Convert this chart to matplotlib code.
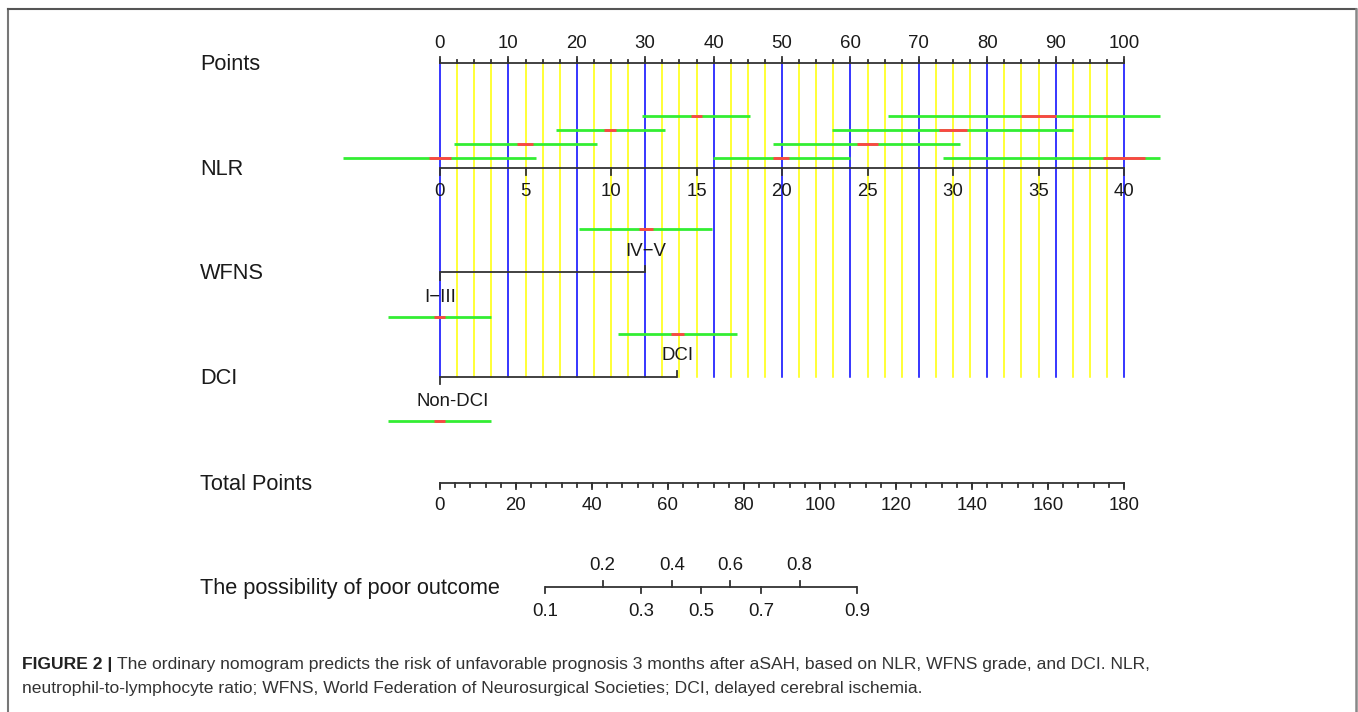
import numpy as np
import matplotlib
matplotlib.use("Agg")
import matplotlib.pyplot as plt

# ---------------- data ----------------
points_major = np.arange(0, 101, 10)
points_minor = np.arange(0, 100.01, 2.5)

nlr_ticks = np.arange(0, 41, 5)
nlr_points_per_unit = 2.5           # 40 NLR units -> 100 points

# confidence intervals drawn above the NLR axis (NLR units)
nlr_ci_values = [0, 5, 10, 15, 20, 25, 30, 35, 40]
nlr_ci_outer_lo = [-5.65, 0.8, 6.78, 11.8, 15.96, 19.5, 22.9, 26.2, 29.4]
nlr_ci_outer_hi = [5.6, 9.16, 13.16, 18.1, 24.0, 30.4, 37.0, 42.1, 42.1]
nlr_ci_inner_lo = [-0.66, 4.5, 9.6, 14.66, 19.5, 24.37, 29.2, 34.0, 38.75]
nlr_ci_inner_hi = [0.63, 5.44, 10.3, 15.3, 20.4, 25.6, 30.8, 36.0, 41.2]

wfns_levels = ["I\u2212III", "IV\u2212V"]
wfns_points = [0, 30.0]
wfns_ci_outer = [(-7.65, 7.5), (20.3, 39.8)]
wfns_ci_inner = [(-0.88, 0.78), (29.1, 31.2)]

dci_levels = ["Non-DCI", "DCI"]
dci_points = [0, 34.7]
dci_ci_outer = [(-7.65, 7.5), (26.0, 43.4)]
dci_ci_inner = [(-0.88, 0.78), (33.8, 35.7)]

total_major = np.arange(0, 181, 20)
total_minor = np.arange(0, 181, 4)
total_max = 180

prob_upper = [0.2, 0.4, 0.6, 0.8]
prob_lower = [0.1, 0.3, 0.5, 0.7, 0.9]
lp_intercept = -3.674               # linear predictor = b0 + b1 * total points
lp_slope = 0.05348

row_labels = ["Points", "NLR", "WFNS", "DCI", "Total Points",
              "The possibility of poor outcome"]

# ---------------- layout ----------------
W, H = 1358, 712
PX0 = 440.0          # pixel x of 0 points
PPP = 6.84           # pixels per point
Y = dict(points=63, nlr=168, wfns=272, dci=377, total=483, prob=587)
LABEL_X = 200

AX_COL = "#333333"
TXT = "#1a1a1a"
BLUE = "#0000ff"
YELLOW = "#ffff00"
GREEN = "#33ee33"
RED = "#ff4444"
LAB_FS = 15.7
TICK_FS = 13.4
CI_LW = 2.0
FONT = "Liberation Sans"

fig = plt.figure(figsize=(W / 100, H / 100), dpi=100)
ax = fig.add_axes([0, 0, 1, 1])
ax.set_xlim(-PX0 / PPP, (W - PX0) / PPP)
ax.set_ylim(H, 0)
ax.axis("off")

def px(dx):
    return dx / PPP

def label(x, y, s, fs=TICK_FS, ha="center"):
    ax.text(x, y, s, fontsize=fs, ha=ha, va="center", color=TXT, family=FONT)

# row labels
for lab, key in zip(row_labels, ["points", "nlr", "wfns", "dci", "total", "prob"]):
    label(px(LABEL_X - PX0), Y[key] + 1.5, lab, fs=LAB_FS, ha="left")

# vertical reference lines
for v in points_minor:
    col = BLUE if np.isclose(v % 10, 0) else YELLOW
    ax.plot([v, v], [Y["points"], Y["dci"]], color=col, lw=1.1, zorder=1)

def hline(x0, x1, y):
    ax.plot([x0, x1], [y, y], color=AX_COL, lw=1.3, zorder=2, solid_capstyle="butt")

def tick(x, y, length):
    ax.plot([x, x], [y, y + length], color=AX_COL, lw=1.3, zorder=2)

# Points axis
hline(0, 100, Y["points"])
for v in points_minor:
    tick(v, Y["points"], -3.5)
for v in points_major:
    tick(v, Y["points"], -6)
    label(v, Y["points"] - 20, f"{v:g}")

# NLR axis
nlr_pts = nlr_ticks * nlr_points_per_unit
hline(0, nlr_pts[-1], Y["nlr"])
for v, p in zip(nlr_ticks, nlr_pts):
    tick(p, Y["nlr"], 7)
    label(p, Y["nlr"] + 24, f"{v:g}")

nlr_rows = [Y["nlr"] - 10, Y["nlr"] - 24, Y["nlr"] - 38, Y["nlr"] - 52]
for i, v in enumerate(nlr_ci_values):
    yy = nlr_rows[i % 4]
    ax.plot(np.array([nlr_ci_outer_lo[i], nlr_ci_outer_hi[i]]) * nlr_points_per_unit,
            [yy, yy], color=GREEN, lw=CI_LW, zorder=3, solid_capstyle="butt")
    ax.plot(np.array([nlr_ci_inner_lo[i], nlr_ci_inner_hi[i]]) * nlr_points_per_unit,
            [yy, yy], color=RED, lw=CI_LW, zorder=4, solid_capstyle="butt")

# WFNS axis
hline(wfns_points[0], wfns_points[1], Y["wfns"])
tick(wfns_points[0], Y["wfns"], 8)
tick(wfns_points[1], Y["wfns"], -6.5)
label(wfns_points[0], Y["wfns"] + 25, wfns_levels[0])
label(wfns_points[1], Y["wfns"] - 21, wfns_levels[1])
wfns_rows = [Y["wfns"] + 44.5, Y["wfns"] - 43.5]
for (lo, hi), (rlo, rhi), yy in zip(wfns_ci_outer, wfns_ci_inner, wfns_rows):
    ax.plot([lo, hi], [yy, yy], color=GREEN, lw=CI_LW, zorder=3, solid_capstyle="butt")
    ax.plot([rlo, rhi], [yy, yy], color=RED, lw=CI_LW, zorder=4, solid_capstyle="butt")

# DCI axis
hline(dci_points[0], dci_points[1], Y["dci"])
tick(dci_points[0], Y["dci"], 7)
tick(dci_points[1], Y["dci"], -6.5)
label(dci_points[0] + px(13), Y["dci"] + 25, dci_levels[0])
label(dci_points[1], Y["dci"] - 21, dci_levels[1])
dci_rows = [Y["dci"] + 44, Y["dci"] - 43.5]
for (lo, hi), (rlo, rhi), yy in zip(dci_ci_outer, dci_ci_inner, dci_rows):
    ax.plot([lo, hi], [yy, yy], color=GREEN, lw=CI_LW, zorder=3, solid_capstyle="butt")
    ax.plot([rlo, rhi], [yy, yy], color=RED, lw=CI_LW, zorder=4, solid_capstyle="butt")

# Total points axis
scale_tp = 100.0 / total_max
hline(0, 100, Y["total"])
for v in total_minor:
    tick(v * scale_tp, Y["total"], 3.5)
for v in total_major:
    tick(v * scale_tp, Y["total"], 6)
    label(v * scale_tp, Y["total"] + 22, f"{v:g}")

# probability axis
def prob_to_points(p):
    lp = np.log(p / (1 - p))
    return (lp - lp_intercept) / lp_slope * scale_tp

all_probs = sorted(prob_upper + prob_lower)
hline(prob_to_points(all_probs[0]), prob_to_points(all_probs[-1]), Y["prob"])
for p in prob_upper:
    x = prob_to_points(p)
    tick(x, Y["prob"], -6)
    label(x, Y["prob"] - 22, f"{p:g}")
for p in prob_lower:
    x = prob_to_points(p)
    tick(x, Y["prob"], 6)
    label(x, Y["prob"] + 25, f"{p:g}")

# frame
fig.add_artist(plt.Line2D([7.5 / W, 7.5 / W], [0, 1 - 8.5 / H], color="#777777", lw=1.5))
fig.add_artist(plt.Line2D([7.5 / W, 1355.5 / W], [1 - 8.5 / H, 1 - 8.5 / H], color="#555555", lw=1.5))
fig.add_artist(plt.Line2D([1355.5 / W, 1355.5 / W], [0, 1 - 8.5 / H], color="#888888", lw=1.8))

# caption
CAP_FS = 12.6
cap1_bold = "FIGURE 2 | "
cap1 = ("The ordinary nomogram predicts the risk of unfavorable prognosis 3 months "
        "after aSAH, based on NLR, WFNS grade, and DCI. NLR,")
cap2 = ("neutrophil-to-lymphocyte ratio; WFNS, World Federation of Neurosurgical "
        "Societies; DCI, delayed cerebral ischemia.")
t_b = fig.text(22 / W, 1 - 664 / H, cap1_bold, fontsize=CAP_FS, fontweight="bold",
               color="#222222", ha="left", va="center", family=FONT)
ax.annotate(cap1, xy=(1, 0.5), xycoords=t_b, ha="left", va="center",
            fontsize=CAP_FS, color="#333333", family=FONT)
fig.text(22 / W, 1 - 688 / H, cap2, fontsize=CAP_FS, color="#333333",
         ha="left", va="center", family=FONT)

fig.savefig("out.png", dpi=100)
